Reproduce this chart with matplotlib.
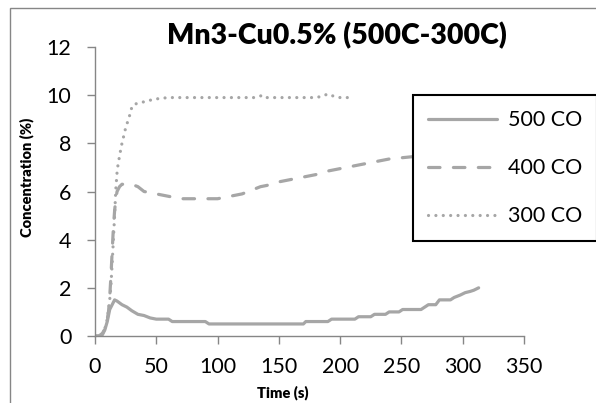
import matplotlib
matplotlib.use("Agg")
import matplotlib.pyplot as plt
from matplotlib.patches import Rectangle

plt.rcParams['font.family'] = ['Lato', 'DejaVu Sans']

title = "Mn3-Cu0.5% (500C-300C)"
x_label = "Time (s)"
y_label = "Concentration (%)"
series_names = ["500 CO", "400 CO", "300 CO"]

t500 = [0, 2, 4, 6, 8, 10, 12, 14, 16, 18, 22, 26, 30, 35, 40, 45, 50, 55, 60, 63,
        70, 80, 90, 93, 100, 120, 140, 160, 170, 172, 190, 193, 212, 215, 225, 228,
        237, 240, 248, 251, 266, 269, 272, 278, 281, 290, 293, 298, 302, 306, 309, 313]
c500 = [0, 0, 0, 0.05, 0.25, 0.6, 1.1, 1.3, 1.5, 1.45, 1.3, 1.2, 1.05, 0.9, 0.85, 0.75, 0.7, 0.7, 0.7, 0.6,
        0.6, 0.6, 0.6, 0.5, 0.5, 0.5, 0.5, 0.5, 0.5, 0.6, 0.6, 0.7, 0.7, 0.8, 0.8, 0.9,
        0.9, 1.0, 1.0, 1.1, 1.1, 1.2, 1.3, 1.3, 1.5, 1.5, 1.6, 1.7, 1.8, 1.85, 1.9, 2.0]

t400 = [0, 3, 6, 8, 10, 11, 12, 13, 14, 15, 16, 17, 18, 20, 22, 25, 30, 35, 40, 45, 50,
        55, 60, 70, 80, 90, 100, 105, 110, 115, 120, 125, 130, 135, 140, 150, 160, 170,
        180, 190, 200, 210, 220, 230, 240, 250, 260, 270, 280, 290, 300, 313]
c400 = [0, 0, 0.1, 0.3, 0.7, 1.0, 1.6, 2.5, 3.5, 4.5, 5.2, 5.7, 6.0, 6.2, 6.3, 6.3, 6.3, 6.2, 6.0, 5.95, 5.9,
        5.85, 5.8, 5.7, 5.7, 5.7, 5.7, 5.75, 5.8, 5.85, 5.9, 6.0, 6.1, 6.2, 6.25, 6.4, 6.5, 6.6,
        6.7, 6.85, 6.95, 7.05, 7.15, 7.25, 7.35, 7.4, 7.45, 7.55, 7.65, 7.75, 7.85, 7.95]

t300 = [0, 3, 6, 8, 10, 11, 12, 13, 14, 15, 16, 17, 18, 19, 20, 21, 22, 23, 24, 26, 28, 29,
        31, 34, 38, 42, 48, 54, 60, 70, 80, 90, 100, 110, 120, 130, 134, 137, 140, 150, 160,
        170, 180, 185, 190, 195, 200, 210]
c300 = [0, 0, 0.1, 0.3, 0.7, 1.1, 1.5, 2.1, 3.0, 4.0, 5.0, 6.1, 6.8, 7.2, 7.45, 7.75, 8.0, 8.2, 8.45, 8.8, 9.1, 9.35,
        9.6, 9.65, 9.7, 9.75, 9.83, 9.87, 9.9, 9.9, 9.9, 9.9, 9.9, 9.9, 9.9, 9.9, 9.95, 10.0, 9.9, 9.9, 9.9,
        9.9, 9.9, 9.95, 10.05, 9.95, 9.9, 9.9]

x_ticks = [0, 50, 100, 150, 200, 250, 300, 350]
y_ticks = [0, 2, 4, 6, 8, 10, 12]

W, H = 596, 403
fig = plt.figure(figsize=(W / 100, H / 100), dpi=100)
ax = fig.add_axes([95 / W, 1 - 336 / H, (524 - 95) / W, (336 - 47) / H])

col = '#A6A6A6'
lw = 2.3
ax.plot(t500, c500, color=col, lw=lw, solid_capstyle='round', solid_joinstyle='round', label=series_names[0])
ax.plot(t400, c400, color=col, lw=lw, linestyle=(0, (3.6, 4.2)), dash_capstyle='round', label=series_names[1])
ax.plot(t300, c300, color=col, lw=lw, linestyle=(0, (0.01, 2.3)), dash_capstyle='round', label=series_names[2])

ax.set_xlim(0, 350)
ax.set_ylim(0, 12)
ax.set_xticks(x_ticks)
ax.set_yticks(y_ticks)
ax.set_xticklabels([str(v) for v in x_ticks])
ax.set_yticklabels([str(v) for v in y_ticks])

for s in ['top', 'right']:
    ax.spines[s].set_visible(False)
for s in ['left', 'bottom']:
    ax.spines[s].set_color('#868686')
    ax.spines[s].set_linewidth(1.0)
ax.tick_params(axis='both', direction='out', length=6, width=1.0, color='#868686',
               labelsize=15.5, labelcolor='black')
ax.tick_params(axis='x', pad=9)
ax.tick_params(axis='y', pad=11)

fig.text(27 / W, 1 - 177 / H, y_label, rotation=90, ha='center', va='center',
         fontsize=10.5, fontweight='heavy')
fig.text(283 / W, 1 - 393 / H, x_label, ha='center', va='center',
         fontsize=10.5, fontweight='heavy')
fig.text(337 / W, 1 - 44 / H, title, ha='center', va='baseline',
         fontsize=20.5, fontweight='heavy')

leg = ax.legend(loc='upper left', bbox_to_anchor=(413 / W, 1 - 95 / H),
                bbox_transform=fig.transFigure, borderaxespad=0, fontsize=15.5,
                handlelength=3.2, handletextpad=0.5, labelspacing=1.3,
                borderpad=0.7, fancybox=False, framealpha=1, edgecolor='black')
leg.get_frame().set_linewidth(1.5)

fig.patches.append(Rectangle((10 / W, -0.05), 1.0, 1 - 8 / H + 0.05, transform=fig.transFigure,
                             fill=False, edgecolor='#868686', lw=1.0))

fig.savefig('out.png', dpi=100)
